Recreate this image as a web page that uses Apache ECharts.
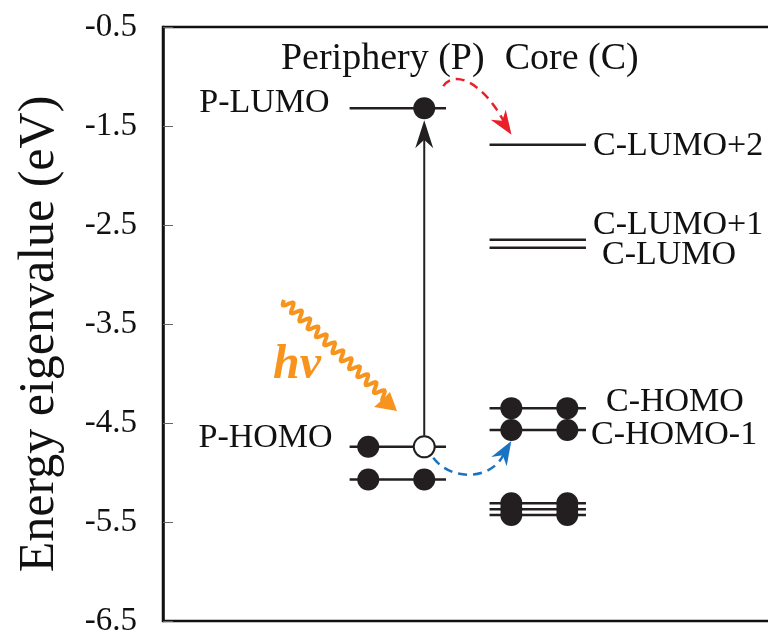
<!DOCTYPE html>
<html>
<head>
<meta charset="UTF-8">
<script src="https://cdn.jsdelivr.net/npm/echarts@6/dist/echarts.min.js"></script>
<style>
    html, body { margin: 0; padding: 0; background: #fff; }
    #chart { width: 768px; height: 637px; }
</style>
</head>
<body>
<div id="chart"></div>
<script>
// energy levels (eV)
const peripheryLabels = ['P-LUMO', 'P-HOMO', ''];
const peripheryLevels = [-1.32, -4.74, -5.07];
const coreLabels = ['C-LUMO+2', 'C-LUMO+1', 'C-LUMO', 'C-HOMO', 'C-HOMO-1', '', '', ''];
const coreLevels = [-1.69, -2.65, -2.73, -4.35, -4.57, -5.31, -5.37, -5.43];
// occupation of the left / right slot: 1 electron, 0 empty, -1 hole
const peripheryLeft = [0, 1, 1];
const peripheryRight = [1, -1, 1];
const coreLeft = [0, 0, 0, 1, 1, 1, 1, 1];
const coreRight = [0, 0, 0, 1, 1, 1, 1, 1];

// column layout on a 0..10 x scale
const colP = { from: 3.0, to: 4.55, left: 3.3, right: 4.2 };
const colC = { from: 5.25, to: 6.8, left: 5.6, right: 6.5 };

const serif = '"Liberation Serif", "Times New Roman", serif';
const ink = '#231f20';

const levelData = [];
peripheryLevels.forEach(e => levelData.push([colP.from, colP.to, e]));
coreLevels.forEach(e => levelData.push([colC.from, colC.to, e]));

const electrons = [];
const holes = [];
function addElectrons(levels, occ, x) {
    levels.forEach((e, i) => {
        if (occ[i] === 1) electrons.push([x, e]);
        if (occ[i] === -1) holes.push([x, e]);
    });
}
addElectrons(peripheryLevels, peripheryLeft, colP.left);
addElectrons(peripheryLevels, peripheryRight, colP.right);
addElectrons(coreLevels, coreLeft, colC.left);
addElectrons(coreLevels, coreRight, colC.right);

const chart = echarts.init(document.getElementById('chart'));

const option = {
    animation: false,
    backgroundColor: '#fff',
    grid: {
        left: 163, top: 27, bottom: 16, right: -17,
        outerBoundsMode: 'none',
        show: true, borderColor: '#111', borderWidth: 2.5
    },
    xAxis: { type: 'value', min: 0, max: 10, show: false },
    yAxis: {
        type: 'value', min: -6.5, max: -0.5, interval: 1,
        name: 'Energy eigenvalue (eV)',
        nameLocation: 'middle', nameGap: 98,
        nameTextStyle: { fontFamily: serif, fontSize: 50, color: '#111', padding: [0, 20, 0, 0] },
        axisLine: { show: true, lineStyle: { color: '#111', width: 2.5 } },
        axisTick: { show: true, inside: true, length: 10, lineStyle: { color: '#666', width: 1 } },
        axisLabel: {
            margin: 26, fontFamily: serif, fontSize: 33, color: '#111',
            formatter: v => v.toFixed(1)
        },
        splitLine: { show: false }
    },
    series: [
        {
            type: 'custom',
            data: levelData,
            encode: { x: [0, 1], y: 2 },
            z: 2,
            renderItem: (params, api) => {
                const a = api.coord([api.value(0), api.value(2)]);
                const b = api.coord([api.value(1), api.value(2)]);
                return {
                    type: 'line',
                    shape: { x1: a[0], y1: a[1], x2: b[0], y2: b[1] },
                    style: { stroke: ink, lineWidth: 2.5 }
                };
            }
        },
        {
            type: 'scatter', data: electrons, symbolSize: 22, z: 5,
            itemStyle: { color: ink, opacity: 1 }
        },
        {
            type: 'scatter', data: holes, symbolSize: 21, z: 5,
            itemStyle: { color: '#fff', borderColor: ink, borderWidth: 2, opacity: 1 }
        }
    ]
};
chart.setOption(option);

// annotations placed from the data positions
const px = (x, y) => chart.convertToPixel({ gridIndex: 0 }, [x, y]);
const g = [];

function label(x, y, s, align, size) {
    g.push({
        type: 'text', x: x, y: y, z: 10,
        style: { text: s, fontFamily: serif, fontSize: size || 34, fill: '#111', align: align, verticalAlign: 'middle' }
    });
}
function head(tip, from, len, half, color) {
    const dx = tip[0] - from[0], dy = tip[1] - from[1];
    const d = Math.hypot(dx, dy);
    const ux = dx / d, uy = dy / d;
    const bx = tip[0] - ux * len, by = tip[1] - uy * len;
    g.push({
        type: 'polygon', z: 12,
        shape: { points: [tip, [bx - uy * half, by + ux * half], [tip[0] - ux * len * 0.7, tip[1] - uy * len * 0.7], [bx + uy * half, by - ux * half]] },
        style: { fill: color }
    });
}

// level labels
const pOff = [[-20, -5], [-17, -9], [0, 0]];
peripheryLabels.forEach((s, i) => {
    if (!s) return;
    const p = px(colP.from, peripheryLevels[i]);
    label(p[0] + pOff[i][0], p[1] + pOff[i][1], s, 'right');
});
const cOff = [[7, 1], [7, -15], [16, 7], [20, -6], [5, 5]];
coreLabels.forEach((s, i) => {
    if (!s) return;
    const p = px(colC.to, coreLevels[i]);
    label(p[0] + cOff[i][0], p[1] + cOff[i][1], s, 'left');
});

// column headers
const pHead = px((colP.from + colP.to) / 2, -0.5);
const cHead = px((colC.from + colC.to) / 2, -0.5);
label(pHead[0] - 15, pHead[1] + 32, 'Periphery (P)', 'center', 38);
label(cHead[0] + 34, cHead[1] + 32, 'Core (C)', 'center', 38);

// vertical excitation arrow: P-HOMO hole -> P-LUMO electron
const hole = px(colP.right, peripheryLevels[1]);
const lumoE = px(colP.right, peripheryLevels[0]);
g.push({
    type: 'line', z: 11,
    shape: { x1: hole[0], y1: hole[1] - 11, x2: lumoE[0], y2: lumoE[1] + 20 },
    style: { stroke: ink, lineWidth: 2 }
});
head([lumoE[0], lumoE[1] + 12], [lumoE[0], lumoE[1] + 40], 28, 9, ink);

// red dashed arc: P-LUMO -> C-LUMO+2
const cl2 = px(colC.from, coreLevels[0]);
const r0 = [lumoE[0] + 19, lumoE[1] - 22];
const r1 = [r0[0] + 12, r0[1] - 18];
const r2 = [cl2[0] - 4, cl2[1] - 60];
const r3 = [cl2[0] + 22, cl2[1] - 10];
g.push({
    type: 'bezierCurve', z: 11,
    shape: { x1: r0[0], y1: r0[1], cpx1: r1[0], cpy1: r1[1], cpx2: r2[0], cpy2: r2[1], x2: r3[0] - 6, y2: r3[1] - 10 },
    style: { stroke: '#e8202a', lineWidth: 2.5, lineDash: [9, 6], fill: null }
});
head(r3, [r3[0] - 12, r3[1] - 18], 24, 9, '#e8202a');

// blue dashed arc: P-HOMO -> C-HOMO-1
const ch1 = px(colC.left, coreLevels[4]);
const b0 = [hole[0] + 9, hole[1] + 11];
const b1 = [b0[0] + 18, b0[1] + 24];
const b2 = [ch1[0] - 20, ch1[1] + 50];
const b3 = [ch1[0], ch1[1] + 11];
g.push({
    type: 'bezierCurve', z: 11,
    shape: { x1: b0[0], y1: b0[1], cpx1: b1[0], cpy1: b1[1], cpx2: b2[0], cpy2: b2[1], x2: b3[0] - 8, y2: b3[1] + 14 },
    style: { stroke: '#1a73c0', lineWidth: 2.5, lineDash: [9, 6], fill: null }
});
head(b3, [b3[0] - 12, b3[1] + 20], 24, 9, '#1a73c0');

// photon: wavy orange arrow and h-nu
const orange = '#f7941d';
const w0 = [284, 300], w1 = [388, 400];
const wl = Math.hypot(w1[0] - w0[0], w1[1] - w0[1]);
const wx = (w1[0] - w0[0]) / wl, wy = (w1[1] - w0[1]) / wl;
const wave = [];
for (let s = 0; s <= wl; s += 1) {
    const a = 4.5 * Math.sin(s / 11.5 * 2 * Math.PI);
    wave.push([w0[0] + wx * s - wy * a, w0[1] + wy * s + wx * a]);
}
g.push({ type: 'polyline', z: 11, shape: { points: wave }, style: { stroke: orange, lineWidth: 4, fill: null } });
g.push({
    type: 'polygon', z: 11,
    shape: { points: [[397, 411], [374, 407], [382, 400], [390, 392], [397, 411]] },
    style: { fill: orange }
});
g.push({
    type: 'text', x: 297, y: 366, z: 11,
    style: { text: 'hν', fontFamily: serif, fontSize: 48, fontWeight: 'bold', fontStyle: 'italic', fill: orange, align: 'center', verticalAlign: 'middle' }
});

chart.setOption({ graphic: g });
</script>
</body>
</html>
